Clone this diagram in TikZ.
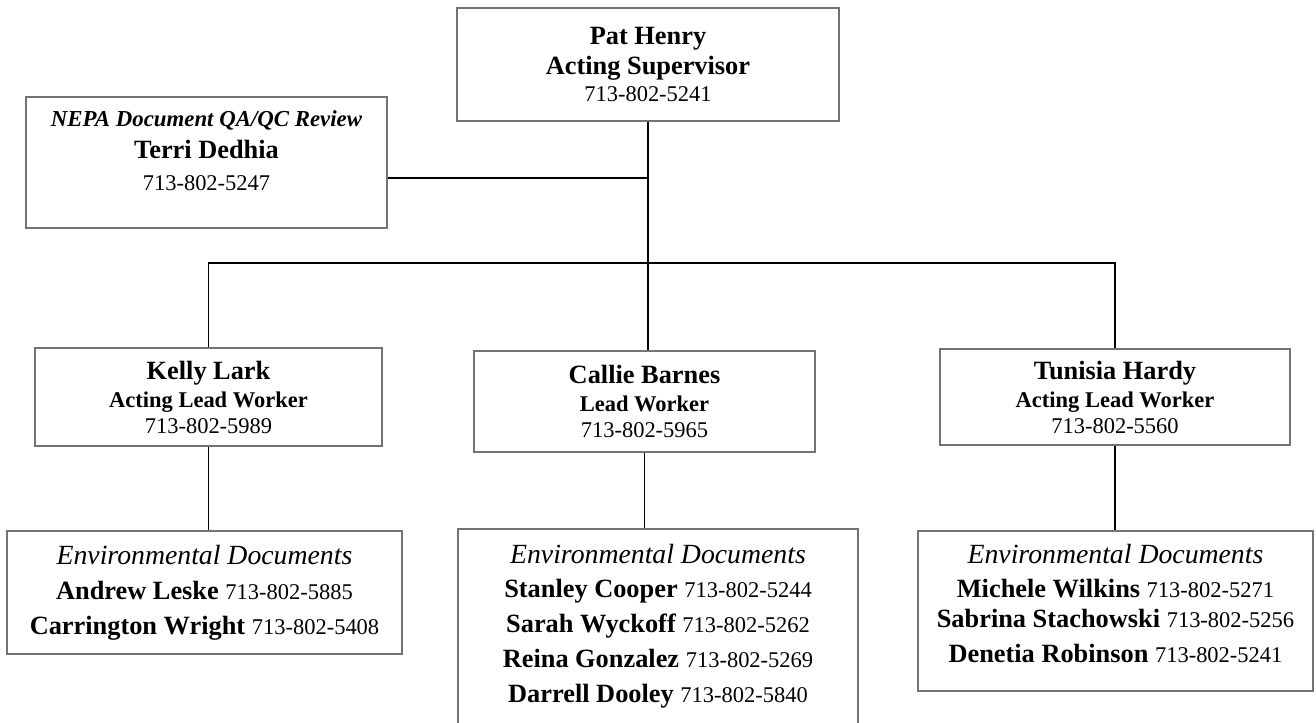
\documentclass[tikz,border=0pt]{standalone}
\usepackage{fontspec}
\setmainfont{Liberation Serif}
\usepackage{tikz}

\newcommand{\staffname}[1]{{\bfseries\fontsize{15}{17}\selectfont #1}}
\newcommand{\staffrole}[1]{{\bfseries\fontsize{12.8}{17}\selectfont #1}}
\newcommand{\staffphone}[1]{{\fontsize{12.8}{17}\selectfont #1}}
\newcommand{\unitname}[1]{{\itshape\fontsize{15.8}{19}\selectfont #1}}
\newcommand{\lowpad}[1]{\rule[-#1]{0pt}{#1}}

\tikzset{
  orgbox/.style={draw=black!55, line width=0.8pt, align=center, inner sep=0pt},
  link/.style={draw=black, line width=0.8pt},
}

\begin{document}
\begin{tikzpicture}[x=0.02cm, y=-0.02cm]
\useasboundingbox (0,0) rectangle (1316,723);

\node[orgbox, minimum width=7.64cm, minimum height=2.26cm, font=\fontsize{15}{17}\selectfont] (henry) at (648,64.5)
  {\staffname{Pat Henry}\\ \staffname{Acting Supervisor}\\[-2pt] \staffphone{713-802-5241}};
\node[orgbox, minimum width=7.22cm, minimum height=2.62cm, font=\fontsize{15}{18.3}\selectfont] (nepa) at (206.5,162.5)
  {{\bfseries\itshape\fontsize{13}{18}\selectfont NEPA Document QA/QC Review}\\ \staffname{Terri Dedhia}\\ \staffphone{713-802-5247}\lowpad{13.6pt}};

\node[orgbox, minimum width=6.94cm, minimum height=1.96cm, font=\fontsize{15}{16}\selectfont] (kelly) at (208.5,397)
  {\staffname{Kelly Lark}\\ \staffrole{Acting Lead Worker}\\[-1.3pt] \staffphone{713-802-5989}};
\node[orgbox, minimum width=6.82cm, minimum height=2.02cm, font=\fontsize{15}{15.6}\selectfont] (callie) at (644.5,401.5)
  {\staffname{Callie Barnes}\\ \staffrole{Lead Worker}\\[-0.6pt] \staffphone{713-802-5965}};
\node[orgbox, minimum width=7cm, minimum height=1.92cm, font=\fontsize{15}{16}\selectfont] (tunisia) at (1115,397)
  {\staffname{Tunisia Hardy}\\ \staffrole{Acting Lead Worker}\\[-1.3pt] \staffphone{713-802-5560}};

\node[orgbox, minimum width=7.9cm, minimum height=2.46cm, font=\fontsize{15}{19.8}\selectfont] (leftteam) at (204.5,592.5)
  {\unitname{Environmental Documents}\\
   \staffname{Andrew Leske} \staffphone{713-802-5885}\\
   \staffname{Carrington Wright} \staffphone{713-802-5408}};
\node[orgbox, minimum width=8cm, minimum height=4.22cm, font=\fontsize{15}{19.8}\selectfont] (midteam) at (658,634.5)
  {\unitname{Environmental Documents}\\
   \staffname{Stanley Cooper} \staffphone{713-802-5244}\\
   \staffname{Sarah Wyckoff} \staffphone{713-802-5262}\\
   \staffname{Reina Gonzalez} \staffphone{713-802-5269}\\
   \staffname{Darrell Dooley} \staffphone{713-802-5840}\lowpad{13pt}};
\node[orgbox, minimum width=7.9cm, minimum height=3.2cm, font=\fontsize{15}{19.8}\selectfont] (rightteam) at (1115.5,611)
  {\unitname{Environmental Documents}\\
   \staffname{Michele Wilkins} \staffphone{713-802-5271}\\[-3pt]
   \staffname{Sabrina Stachowski} \staffphone{713-802-5256}\\
   \staffname{Denetia Robinson} \staffphone{713-802-5241}\lowpad{9pt}};

\coordinate (nepajoin) at (648,178);
\coordinate (bar) at (648,263);

\draw[link] (henry.south) -- (henry.south |- callie.north);
\draw[link] (nepa.east |- nepajoin) -- (nepajoin);
\draw[link] (kelly.north) -- (kelly.north |- bar) -- (tunisia.north |- bar) -- (tunisia.north);
\draw[link] (kelly.south) -- (kelly.south |- leftteam.north);
\draw[link] (callie.south) -- (callie.south |- midteam.north);
\draw[link] (tunisia.south) -- (tunisia.south |- rightteam.north);
\end{tikzpicture}
\end{document}
